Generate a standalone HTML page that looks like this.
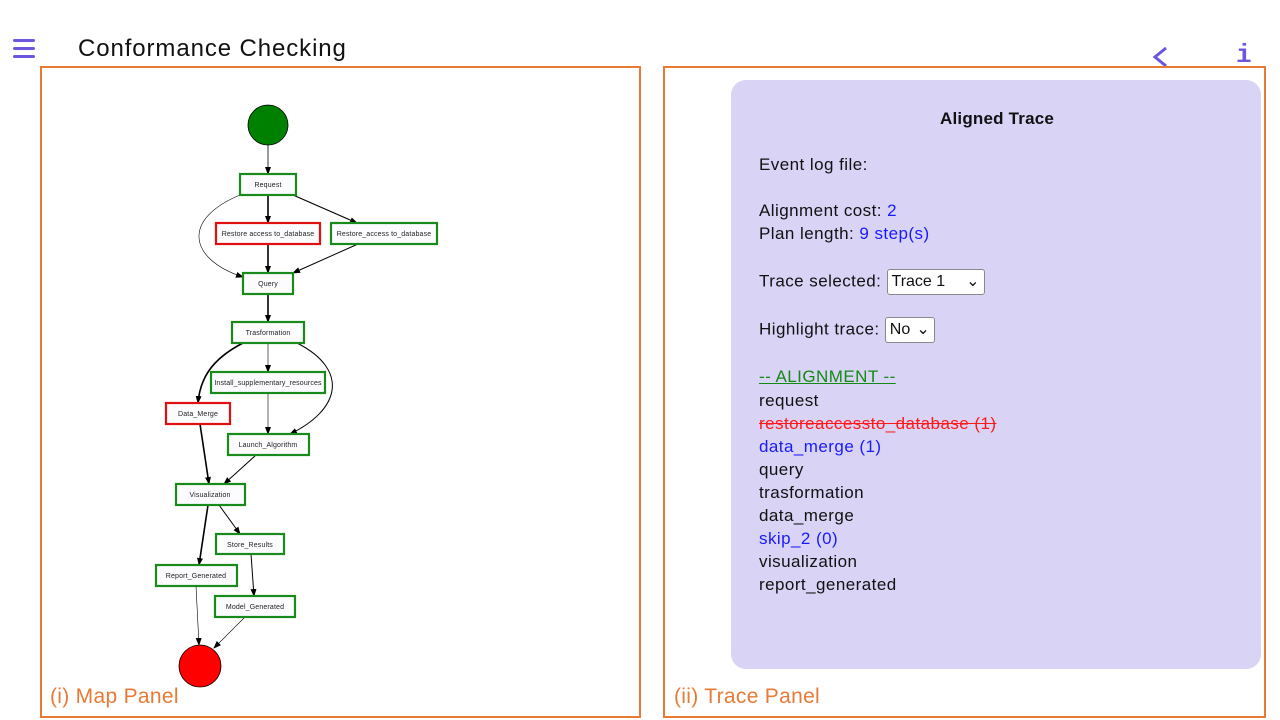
<!DOCTYPE html>
<html><head><meta charset="utf-8"><style>
body{margin:0;width:1280px;height:720px;background:#fff;position:relative;overflow:hidden;font-family:"Liberation Sans",sans-serif}
.p{position:absolute;border:2px solid #e87a35;box-sizing:border-box}
.t{position:absolute;font-size:17px;color:#111;white-space:nowrap;letter-spacing:0.45px}
.b{color:#1a1aff}
.sel{display:inline-block;border:1px solid #888;border-radius:3px;background:#fff;padding:1px 4px;font-size:16px;vertical-align:middle;height:22px;line-height:22px;letter-spacing:0}
.lab{position:absolute;color:#e87a35;font-size:21px;letter-spacing:0.3px}
</style></head><body>
<div style="position:absolute;left:13px;top:39px;width:22px">
<div style="height:3px;background:#6d55e0;border-radius:2px;margin-bottom:5px"></div>
<div style="height:3px;background:#6d55e0;border-radius:2px;margin-bottom:5px"></div>
<div style="height:3px;background:#6d55e0;border-radius:2px"></div></div>
<div style="position:absolute;left:78px;top:35px;font-size:24px;color:#111;letter-spacing:0.9px;font-weight:500">Conformance Checking</div>
<svg style="position:absolute;left:1150px;top:45px" width="20" height="24"><path d="M16,3 L5,12 L16,21" stroke="#6d55e0" stroke-width="3" fill="none"/></svg>
<div style="position:absolute;left:1236px;top:40px;font-size:26px;color:#6d55e0;font-family:'Liberation Mono',monospace;font-weight:bold">i</div>

<div class="p" style="left:40px;top:66px;width:601px;height:652px"></div>
<div class="p" style="left:663px;top:66px;width:603px;height:652px"></div>
<div class="lab" style="left:50px;top:685px">(i) Map Panel</div>
<div class="lab" style="left:674px;top:685px">(ii) Trace Panel</div>

<svg style="position:absolute;left:0;top:0" width="1280" height="720" font-family="Liberation Sans" font-size="7">
<defs><marker id="a" markerWidth="8" markerHeight="8" refX="7" refY="4" orient="auto" markerUnits="userSpaceOnUse"><path d="M0,1 L8,4 L0,7z" fill="#000"/></marker></defs>
<g stroke="#000" fill="none" marker-end="url(#a)">
<line x1="268" y1="145" x2="268" y2="174" stroke-width="0.8"/>
<line x1="268" y1="195" x2="268" y2="223" stroke-width="1.6"/>
<line x1="293" y1="195" x2="357" y2="223" stroke-width="1.2"/>
<path d="M240,195 C180,220 190,260 243,277" stroke-width="0.6"/>
<line x1="268" y1="244" x2="268" y2="273" stroke-width="1.6"/>
<line x1="358" y1="244" x2="293" y2="273" stroke-width="1"/>
<line x1="268" y1="294" x2="268" y2="322" stroke-width="1.6"/>
<line x1="268" y1="343" x2="268" y2="372" stroke-width="0.6"/>
<path d="M243,343 C210,360 200,380 198,403" stroke-width="1.6"/>
<path d="M297,343 C350,370 340,410 290,434" stroke-width="1"/>
<line x1="268" y1="393" x2="268" y2="434" stroke-width="0.6"/>
<line x1="200" y1="424" x2="209" y2="484" stroke-width="1.6"/>
<line x1="256" y1="455" x2="224" y2="484" stroke-width="1"/>
<line x1="208" y1="505" x2="199" y2="565" stroke-width="1.6"/>
<line x1="219" y1="505" x2="240" y2="534" stroke-width="1"/>
<line x1="251" y1="554" x2="254" y2="596" stroke-width="1"/>
<line x1="196" y1="586" x2="199" y2="645" stroke-width="0.6"/>
<line x1="245" y1="617" x2="214" y2="648" stroke-width="0.6"/>
</g>
<circle cx="268" cy="125" r="20" fill="#008000" stroke="#000" stroke-width="0.8"/>
<circle cx="200" cy="666" r="21" fill="#ff0000" stroke="#000" stroke-width="0.8"/>
<g stroke-width="2.2" fill="#fcfcff">
<rect x="240" y="174" width="56" height="21" stroke="#1a8a1a"/>
<rect x="216" y="223" width="104" height="21" stroke="#e01010"/>
<rect x="331" y="223" width="106" height="21" stroke="#1a8a1a"/>
<rect x="243" y="273" width="50" height="21" stroke="#1a8a1a"/>
<rect x="232" y="322" width="72" height="21" stroke="#1a8a1a"/>
<rect x="211" y="372" width="114" height="21" stroke="#1a8a1a"/>
<rect x="166" y="403" width="64" height="21" stroke="#e01010"/>
<rect x="228" y="434" width="81" height="21" stroke="#1a8a1a"/>
<rect x="176" y="484" width="69" height="21" stroke="#1a8a1a"/>
<rect x="216" y="534" width="68" height="20" stroke="#1a8a1a"/>
<rect x="156" y="565" width="81" height="21" stroke="#1a8a1a"/>
<rect x="215" y="596" width="80" height="21" stroke="#1a8a1a"/>
</g>
<g text-anchor="middle" fill="#222" letter-spacing="0.15">
<text x="268" y="187">Request</text>
<text x="268" y="236">Restore access to_database</text>
<text x="384" y="236">Restore_access to_database</text>
<text x="268" y="286">Query</text>
<text x="268" y="335">Trasformation</text>
<text x="268" y="385">Install_supplementary_resources</text>
<text x="198" y="416">Data_Merge</text>
<text x="268" y="447">Launch_Algorithm</text>
<text x="210" y="497">Visualization</text>
<text x="250" y="547">Store_Results</text>
<text x="196" y="578">Report_Generated</text>
<text x="255" y="609">Model_Generated</text>
</g>
</svg>

<div style="position:absolute;left:731px;top:80px;width:530px;height:589px;background:#d9d4f6;border-radius:15px"></div>
<div class="t" style="left:940px;top:109px;font-weight:bold;letter-spacing:0.2px">Aligned Trace</div>
<div class="t" style="left:759px;top:155px">Event log file:</div>
<div class="t" style="left:759px;top:201px">Alignment cost: <span class="b">2</span></div>
<div class="t" style="left:759px;top:224px">Plan length: <span class="b">9 step(s)</span></div>
<div class="t" style="left:759px;top:269px">Trace selected: <span class="sel" style="width:88px">Trace 1 <span style="float:right">⌄</span></span></div>
<div class="t" style="left:759px;top:317px">Highlight trace: <span class="sel" style="width:40px">No <span style="float:right">⌄</span></span></div>
<div class="t" style="left:759px;top:367px;color:#138a13;text-decoration:underline">-- ALIGNMENT --</div>
<div class="t" style="left:759px;top:391px">request</div>
<div class="t" style="left:759px;top:414px;color:#ff1a1a;text-decoration:line-through">restoreaccessto_database (1)</div>
<div class="t b" style="left:759px;top:437px">data_merge (1)</div>
<div class="t" style="left:759px;top:460px">query</div>
<div class="t" style="left:759px;top:483px">trasformation</div>
<div class="t" style="left:759px;top:506px">data_merge</div>
<div class="t b" style="left:759px;top:529px">skip_2 (0)</div>
<div class="t" style="left:759px;top:552px">visualization</div>
<div class="t" style="left:759px;top:575px">report_generated</div>
</body></html>
